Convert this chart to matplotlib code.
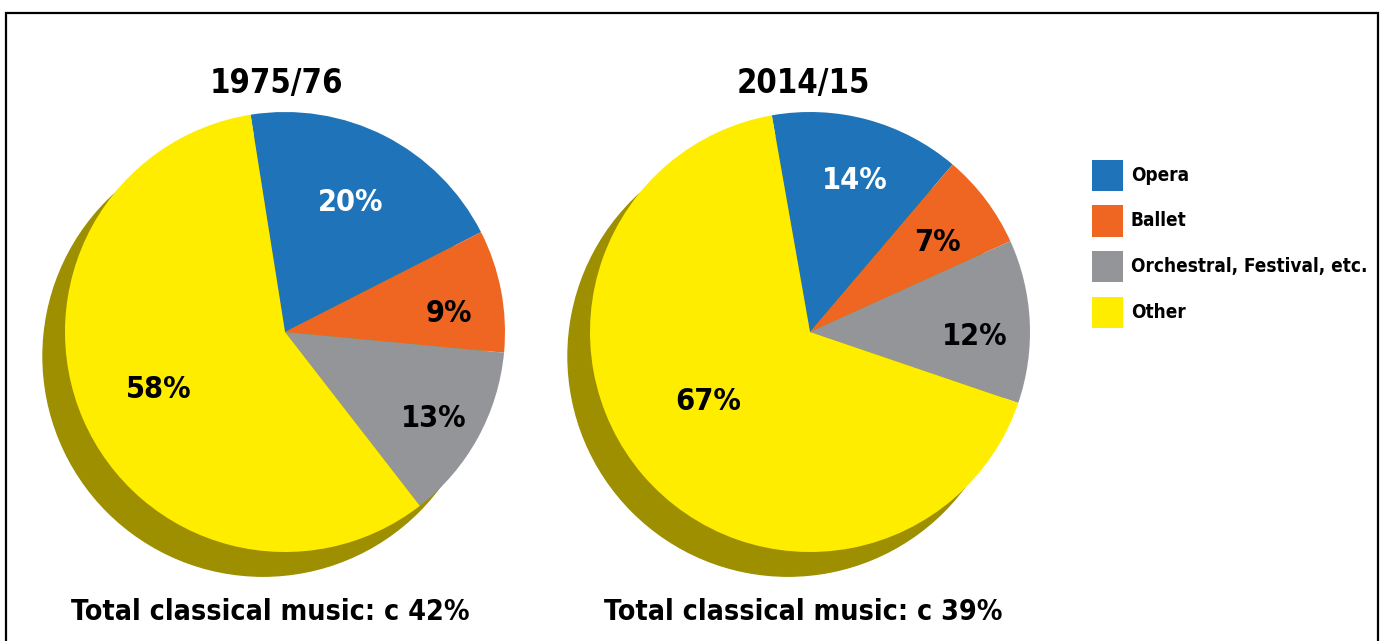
import numpy as np
import matplotlib.pyplot as plt
from matplotlib.patches import Circle, Rectangle

categories = ['Opera', 'Ballet', 'Orchestral, Festival, etc.', 'Other']
colors = ['#1f73b8', '#ef6623', '#939598', '#ffed00']
years = ['1975/76', '2014/15']
shares_1975 = [20, 9, 13, 58]
shares_2014 = [14, 7, 12, 67]
totals = ['Total classical music: c 42%', 'Total classical music: c 39%']
label_colors = ['white', 'black', 'black', 'black']

plt.rcParams['font.family'] = 'DejaVu Sans'
plt.rcParams['font.stretch'] = 'condensed'
plt.rcParams['font.weight'] = 'bold'

W, H = 1385, 641
fig = plt.figure(figsize=(W / 100, H / 100), dpi=100)

# frame round the picture (open at the bottom)
fig.patches.append(Rectangle((6 / W, -0.1), 1372 / W, 1.1 - 13 / H, transform=fig.transFigure,
                             fill=False, edgecolor='black', linewidth=1.6))

R = 220
centers = [285, 810]
starts = [99, 100]
# (radius, angle) of each percentage label
label_pos = [[(0.66, 63), (0.75, 6.3), (0.78, -30.2), (0.63, 204.6)],
             [(0.72, 73.5), (0.71, 35.1), (0.75, -1.7), (0.56, 214.1)]]
for i, shares in enumerate([shares_1975, shares_2014]):
    cx, cy = centers[i], 332
    ax = fig.add_axes([(cx - 250) / W, (H - cy - 250) / H, 500 / W, 500 / H])
    ax.add_patch(Circle((-0.1, -0.11), 1, color='#9d8f00', zorder=0))
    wedges, texts = ax.pie(shares, colors=colors, startangle=starts[i], counterclock=False,
                           labels=[f'{v}%' for v in shares],
                           wedgeprops=dict(linewidth=0), textprops=dict(fontsize=22, fontweight='bold'))
    for t, c, (d, ang) in zip(texts, label_colors, label_pos[i]):
        a = np.deg2rad(ang)
        t.set_position((d * np.cos(a), d * np.sin(a)))
        t.set_color(c)
        t.set_ha('center')
        t.set_va('center')
    ax.set_xlim(-250 / R, 250 / R)
    ax.set_ylim(-250 / R, 250 / R)
    ax.set_aspect('equal')
    ax.axis('off')

fig.text(276 / W, 1 - 84 / H, years[0], ha='center', va='center', fontsize=23.5)
fig.text(803 / W, 1 - 84 / H, years[1], ha='center', va='center', fontsize=23.5)
fig.text(270 / W, 1 - 612 / H, totals[0], ha='center', va='center', fontsize=20.5)
fig.text(803 / W, 1 - 612 / H, totals[1], ha='center', va='center', fontsize=20.5)

# legend
for k, (lab, c) in enumerate(zip(categories, colors)):
    top = 160 + k * 45.5
    fig.patches.append(Rectangle((1092 / W, 1 - (top + 31) / H), 31 / W, 31 / H,
                                 transform=fig.transFigure, facecolor=c, edgecolor='none'))
    fig.text(1131 / W, 1 - (top + 15.5) / H, lab, ha='left', va='center', fontsize=13.6)

fig.savefig('out.png', dpi=100)
